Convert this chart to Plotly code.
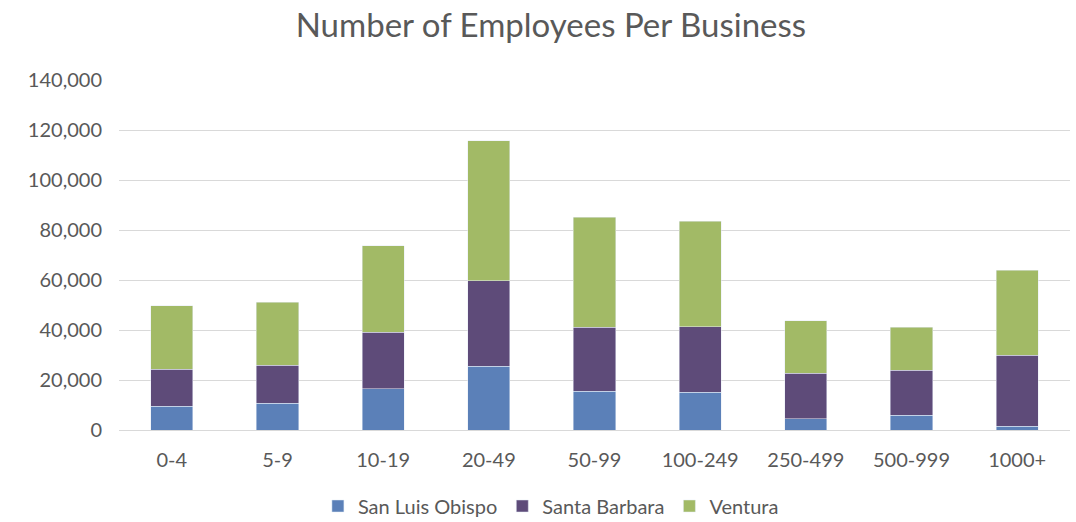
import plotly.graph_objects as go

categories = ["0-4", "5-9", "10-19", "20-49", "50-99", "100-249", "250-499", "500-999", "1000+"]
san_luis_obispo = [9600, 10800, 16500, 25600, 15500, 15100, 4500, 6000, 1600]
santa_barbara = [14800, 15100, 22600, 34100, 25600, 26200, 18200, 18000, 28400]
ventura = [25300, 25200, 34600, 56000, 44100, 42200, 21000, 17100, 33900]
tick_vals = [0, 20000, 40000, 60000, 80000, 100000, 120000, 140000]
tick_text = ["0", "20,000", "40,000", "60,000", "80,000", "100,000", "120,000", "140,000"]

font_family = "Lato, Open Sans, sans-serif"
gray = "#595959"

fig = go.Figure()
fig.add_trace(go.Bar(name="San Luis Obispo", x=categories, y=san_luis_obispo, marker_color="#5B80B8"))
fig.add_trace(go.Bar(name="Santa Barbara", x=categories, y=santa_barbara, marker_color="#5E4B79"))
fig.add_trace(go.Bar(name="Ventura", x=categories, y=ventura, marker_color="#A2BA66"))

fig.update_layout(
    barmode="stack",
    bargap=0.6,
    width=1076,
    height=522,
    margin=dict(l=119, r=6, t=80, b=92, autoexpand=False),
    paper_bgcolor="white",
    plot_bgcolor="white",
    font=dict(family=font_family, color=gray, size=20),
    title=dict(text="Number of Employees Per Business", x=0.512, xanchor="center",
               y=1 - 25 / 522, yanchor="middle", font=dict(size=33, color=gray, family=font_family)),
    legend=dict(orientation="h", x=0.512, xanchor="center", xref="container",
                y=1 - 506 / 522, yanchor="middle", yref="container",
                font=dict(size=20, color=gray), traceorder="normal", itemwidth=30),
    showlegend=True,
)
fig.update_xaxes(showgrid=False, showline=False, ticks="", tickfont=dict(size=20, color=gray),
                 ticklabelstandoff=16)
fig.update_yaxes(range=[0, 140000], tickvals=tick_vals, ticktext=tick_text, showgrid=True,
                 gridcolor="#D9D9D9", gridwidth=1, zeroline=True, zerolinecolor="#D9D9D9",
                 zerolinewidth=1, ticks="", ticklabelstandoff=16, tickfont=dict(size=20, color=gray))

fig.write_html("out.html")
